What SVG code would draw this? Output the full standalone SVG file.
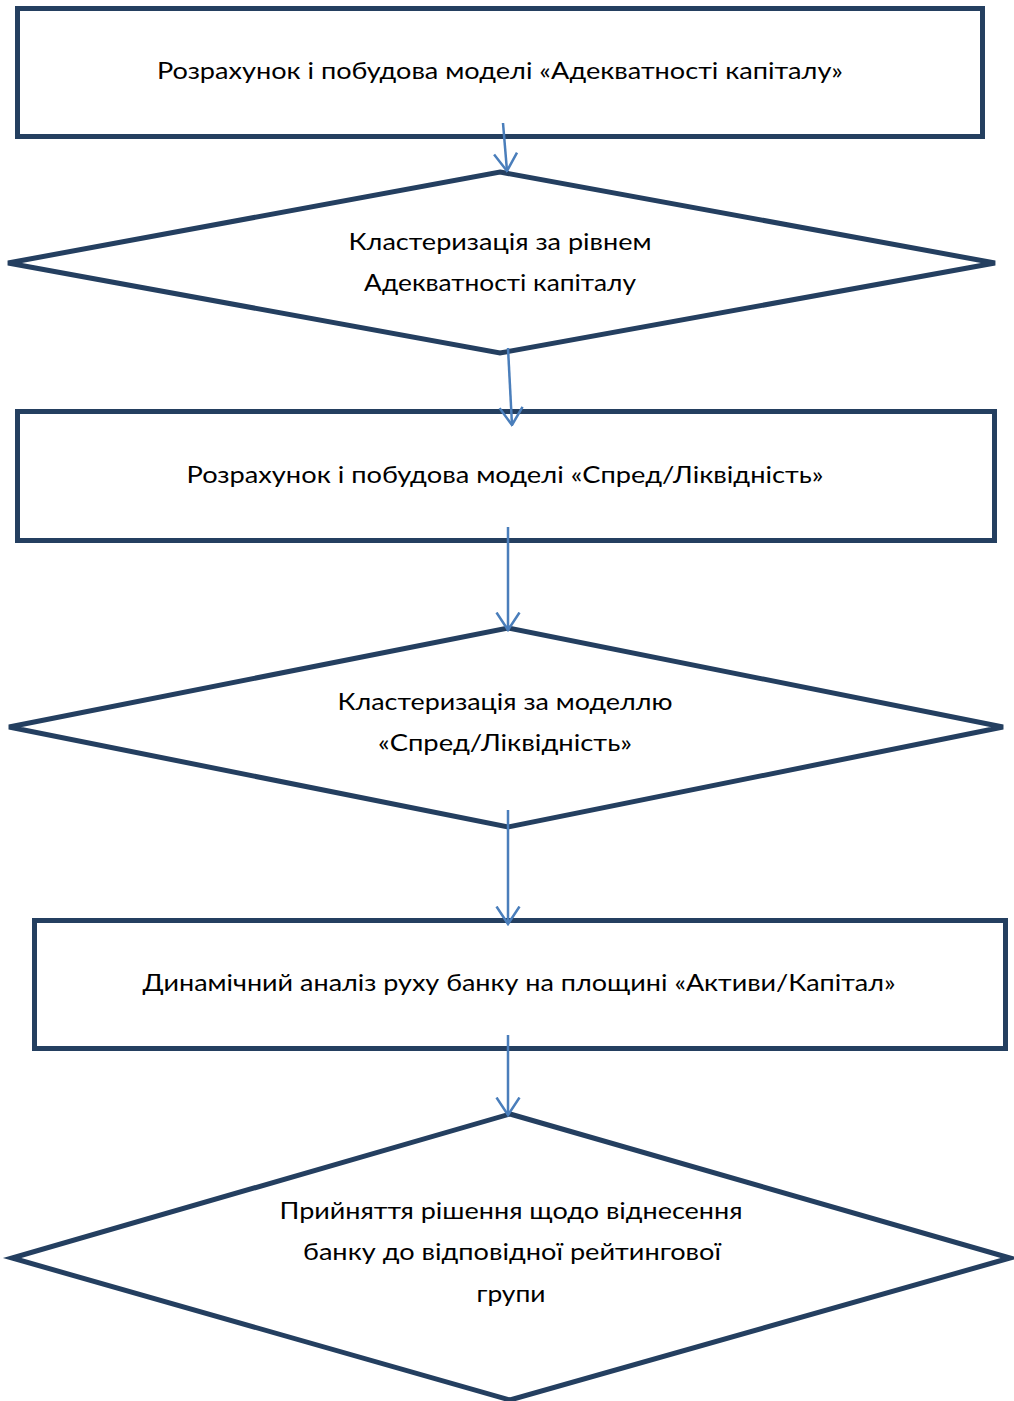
<svg xmlns="http://www.w3.org/2000/svg" width="1014" height="1401" viewBox="0 0 1014 1401">
<defs>
<style>
.n{fill:#fff;stroke:#243f60;stroke-width:5}
.c{stroke:#4a7ebb;stroke-width:2.5;fill:none}
.t{font-family:Lato,"Open Sans",sans-serif;font-size:22.5px;fill:#000;text-anchor:middle}
</style>
<marker id="ah" viewBox="0 0 20 26" refX="18.5" refY="13" markerWidth="20" markerHeight="26" markerUnits="userSpaceOnUse" orient="auto">
<path d="M1,1.5 L18.5,13 L1,24.5" fill="none" stroke="#4a7ebb" stroke-width="2.5"/>
</marker>
</defs>
<rect width="1014" height="1401" fill="#fff"/>
<g id="n1"><rect class="n" x="17.5" y="8.5" width="965" height="128"/>
<text class="t" x="500" y="79" textLength="686" lengthAdjust="spacingAndGlyphs">Розрахунок і побудова моделі «Адекватності капіталу»</text></g>
<g id="n2"><polygon class="n" points="500,172 995,263 500,353 8,263"/>
<text class="t" x="500" y="250" textLength="303" lengthAdjust="spacingAndGlyphs">Кластеризація за рівнем</text>
<text class="t" x="500" y="291" textLength="272" lengthAdjust="spacingAndGlyphs">Адекватності капіталу</text></g>
<g id="n3"><rect class="n" x="17.5" y="411.5" width="977" height="129"/>
<text class="t" x="505" y="483" textLength="637" lengthAdjust="spacingAndGlyphs">Розрахунок і побудова моделі «Спред/Ліквідність»</text></g>
<g id="n4"><polygon class="n" points="508,628 1003,727 508,827 9,727"/>
<text class="t" x="505" y="710" textLength="335" lengthAdjust="spacingAndGlyphs">Кластеризація за моделлю</text>
<text class="t" x="505" y="751" textLength="254" lengthAdjust="spacingAndGlyphs">«Спред/Ліквідність»</text></g>
<g id="n5"><rect class="n" x="34.5" y="920.5" width="971" height="128"/>
<text class="t" x="519" y="991" textLength="753" lengthAdjust="spacingAndGlyphs">Динамічний аналіз руху банку на площині «Активи/Капітал»</text></g>
<g id="n6"><polygon class="n" points="510,1114 1010,1258 510,1400 12,1258"/>
<text class="t" x="511" y="1219" textLength="463" lengthAdjust="spacingAndGlyphs">Прийняття рішення щодо віднесення</text>
<text class="t" x="512" y="1260" textLength="418" lengthAdjust="spacingAndGlyphs">банку до відповідної рейтингової</text>
<text class="t" x="511" y="1302" textLength="69" lengthAdjust="spacingAndGlyphs">групи</text></g>
<g id="connectors">
<line class="c" x1="503" y1="123" x2="507" y2="171" marker-end="url(#ah)"/>
<line class="c" x1="508" y1="348" x2="512" y2="425" marker-end="url(#ah)"/>
<line class="c" x1="508" y1="527" x2="508" y2="630" marker-end="url(#ah)"/>
<line class="c" x1="508" y1="810" x2="508" y2="924" marker-end="url(#ah)"/>
<line class="c" x1="508" y1="1035" x2="508" y2="1115" marker-end="url(#ah)"/>
</g>
</svg>
